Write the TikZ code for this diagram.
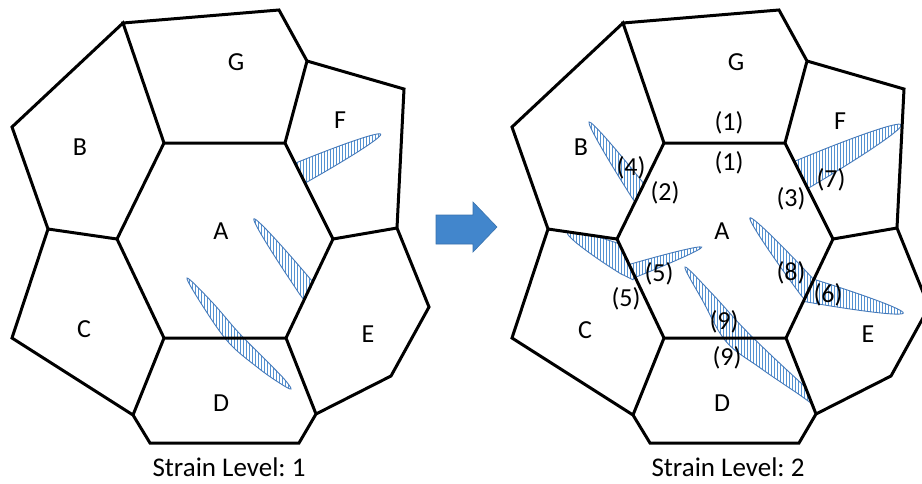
\documentclass[tikz,border=0pt]{standalone}
\usepackage{fontspec}
\setmainfont{Carlito}
\frenchspacing
\usetikzlibrary{patterns.meta}

\definecolor{hatchblue}{RGB}{84,146,210}
\definecolor{crackline}{RGB}{70,122,186}
\definecolor{arrowblue}{RGB}{66,134,204}

% grain outlines (left panel coordinates, y grows downwards)
\newcommand\grA{(164,143) -- (285,143) -- (333,239) -- (286,338) -- (164,338) -- (117,239) -- cycle}
\newcommand\grB{(123,23) -- (164,143) -- (117,239) -- (48,229) -- (12,127) -- cycle}
\newcommand\grC{(164,338) -- (133,415) -- (12,338) -- (48,229) -- (117,239) -- cycle}
\newcommand\grD{(286,338) -- (316,414) -- (299,443) -- (150,443) -- (133,415) -- (164,338) -- cycle}
\newcommand\grE{(333,239) -- (397,228) -- (429,307) -- (391,376) -- (316,414) -- (286,338) -- cycle}
\newcommand\grF{(307,61) -- (404,89) -- (397,228) -- (333,239) -- (285,143) -- cycle}
\newcommand\grG{(123,23) -- (279,10) -- (307,61) -- (285,143) -- (164,143) -- cycle}
\newcommand\grAD{(164,143) -- (285,143) -- (333,239) -- (286,338) -- (316,414) -- (299,443) -- (150,443) -- (133,415) -- (164,338) -- (117,239) -- cycle}

% tapered crack in a local frame: base at x=0 (extended behind), tip at x=L
\newcommand\crackshape[2]{(-14,#2) -- (0,#2) .. controls (0.5*#1,0.75*#2) and (#1,0.32*#2) .. (#1,0) .. controls (#1,-0.32*#2) and (0.5*#1,-0.75*#2) .. (0,-#2) -- (-14,-#2) -- cycle}
% #1 grain, #2 #3 base point, #4 direction, #5 length, #6 half width
\newcommand\crack[6]{%
  \begin{scope}
    \clip #1;
    \path[crackfill, shift={(#2,#3)}, rotate=#4] \crackshape{#5}{#6};
  \end{scope}}

\tikzset{
  grain/.style={draw=black, line width=3pt, line join=miter},
  crackfill/.style={draw=crackline, line width=0.9pt,
    pattern={Lines[angle=90,distance=3pt,line width=1pt]}, pattern color=hatchblue},
  grainlabel/.style={font=\fontsize{26}{31}\selectfont, inner sep=0pt},
  numlabel/.style={font=\fontsize{26}{31}\selectfont, inner sep=0pt},
  caption/.style={font=\fontsize{27}{32}\selectfont, inner sep=0pt},
}

\begin{document}
\begin{tikzpicture}[x=1pt,y=-1pt]
\useasboundingbox (0,0) rectangle (922,483);
\fill[white] (0,0) rectangle (922,483);
\clip (0,0) rectangle (922,483);

% ---------- strain level 1 ----------
\begin{scope}
  \crack{\grF}{301.5}{172.5}{25.8}{88}{11}
  \crack{\grA}{307}{289}{127.1}{88}{9}
  \path[crackfill] plot[smooth cycle, tension=0.6] coordinates
    {(187,278) (212,302) (239,333) (265.6,359.9) (284,378.8) (291,389)
     (280,383.3) (258.4,368.1) (229,342.9) (204,308)};
  \draw[grain] \grA \grB \grC \grD \grE \grF \grG;
  \node[grainlabel] (lG1) at (236,62) {G};
  \node[grainlabel] (lF1) at (340,120) {F};
  \node[grainlabel] (lB1) at (80,147) {B};
  \node[grainlabel] (lA1) at (221,231) {A};
  \node[grainlabel] (lC1) at (84,329) {C};
  \node[grainlabel] (lE1) at (368,334) {E};
  \node[grainlabel] (lD1) at (221,403) {D};
  \node[caption] (cap1) at (229,467) {Strain Level: 1};
\end{scope}

% ---------- arrow ----------
\fill[arrowblue, draw=arrowblue!85!black, line width=0.6pt]
  (436,215) -- (473,215) -- (473,202) -- (497,227) -- (473,252) -- (473,244) -- (436,244) -- cycle;

% ---------- strain level 2 ----------
\begin{scope}[xshift=500pt]
  \crack{\grB}{139}{192}{125.5}{86}{9}
  \crack{\grC}{126.5}{261}{154}{66}{14}
  \crack{\grA}{133.5}{270.5}{18.9}{72}{7}
  \crack{\grF}{303}{174}{26.6}{110}{15}
  \crack{\grA}{308}{288}{129.6}{91}{10}
  \crack{\grE}{308}{290}{-13.6}{98}{12}
  \begin{scope}
    \clip \grAD;
    \path[crackfill] plot[smooth cycle, tension=0.6] coordinates
      {(185,267) (212.9,294.5) (241.8,326.3) (270.4,354.5) (303.2,385.1) (322,402.7)
       (318,407.3) (296.8,392.9) (259.6,367.5) (226.2,341.7) (203.1,301.5)};
  \end{scope}
  \draw[grain] \grA \grB \grC \grD \grE \grF \grG;
  \node[grainlabel] (lG2) at (236,62) {G};
  \node[grainlabel] (lF2) at (340,121) {F};
  \node[grainlabel] (lB2) at (81,147) {B};
  \node[grainlabel] (lA2) at (222,231) {A};
  \node[grainlabel] (lC2) at (85,330) {C};
  \node[grainlabel] (lE2) at (368,334) {E};
  \node[grainlabel] (lD2) at (222,403) {D};
  \node[numlabel] (n1a) at (229,123) {(1)};
  \node[numlabel] (n1b) at (229,163) {(1)};
  \node[numlabel] (n4) at (131,168) {(4)};
  \node[numlabel] (n2) at (165,193) {(2)};
  \node[numlabel] (n3) at (291,199) {(3)};
  \node[numlabel] (n7) at (331,180) {(7)};
  \node[numlabel] (n5a) at (159,274) {(5)};
  \node[numlabel] (n5b) at (126,299) {(5)};
  \node[numlabel] (n8) at (291,273) {(8)};
  \node[numlabel] (n6) at (328,295) {(6)};
  \node[numlabel] (n9a) at (224,322) {(9)};
  \node[numlabel] (n9b) at (227,358) {(9)};
  \node[caption] (cap2) at (228,467) {Strain Level: 2};
\end{scope}
\end{tikzpicture}
\end{document}
